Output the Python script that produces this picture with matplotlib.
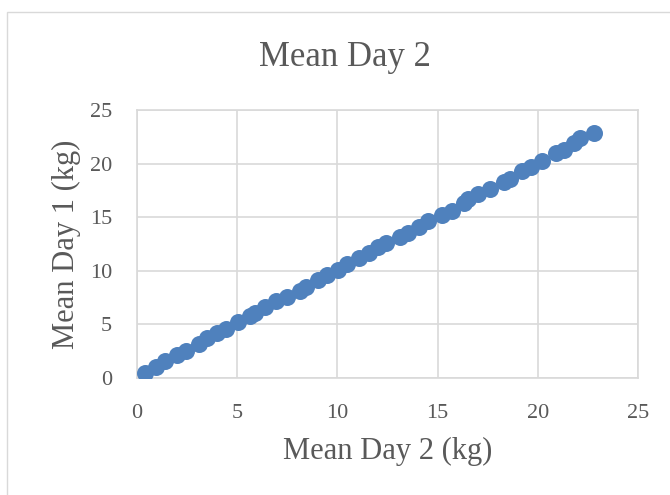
import matplotlib
matplotlib.use("Agg")
import matplotlib.pyplot as plt
from matplotlib.patches import Rectangle

day2 = [0.4, 0.95, 1.4, 2.0, 2.45, 3.1, 3.5, 4.0, 4.45, 5.05, 5.65, 5.9, 6.4, 6.95, 7.5,
        8.15, 8.45, 9.05, 9.5, 10.05, 10.5, 11.1, 11.6, 12.05, 12.45, 13.1, 13.5, 14.05,
        14.5, 15.2, 15.7, 16.3, 16.5, 17.0, 17.6, 18.3, 18.6, 19.2, 19.65, 20.2, 20.9,
        21.3, 21.8, 22.1, 22.8]
day1 = [0.5, 1.05, 1.6, 2.1, 2.55, 3.2, 3.7, 4.2, 4.6, 5.2, 5.8, 6.05, 6.65, 7.2, 7.55,
        8.15, 8.5, 9.1, 9.6, 10.05, 10.65, 11.15, 11.7, 12.2, 12.55, 13.15, 13.55, 14.1,
        14.6, 15.25, 15.6, 16.3, 16.7, 17.2, 17.65, 18.3, 18.6, 19.35, 19.7, 20.25, 21.0,
        21.3, 21.9, 22.4, 22.85]
ticks = [0, 5, 10, 15, 20, 25]

plt.rcParams['font.family'] = ['Liberation Serif', 'DejaVu Serif']
txt = '#595959'
grid = '#d9d9d9'

fig = plt.figure(figsize=(6.7, 4.95), dpi=100)
fig.patches.append(Rectangle((7/670, -0.1), 1.2, 1 - 12/495 + 0.1, transform=fig.transFigure,
                             fill=False, edgecolor=grid, linewidth=1.0))
ax = fig.add_axes([137/670, 117/495, 501/670, 268/495])
ax.scatter(day2, day1, s=150, color='#4F81BD', zorder=3, linewidths=0)
ax.set_xlim(0, 25)
ax.set_ylim(0, 25)
ax.set_xticks(ticks)
ax.set_yticks(ticks)
ax.grid(True, color=grid, linewidth=1.2, zorder=0)
for s in ax.spines.values():
    s.set_color(grid)
    s.set_linewidth(1.2)
ax.tick_params(length=0, labelsize=16, colors=txt)
ax.tick_params(axis='x', pad=19)
ax.tick_params(axis='y', pad=18)
ax.set_xlabel('Mean Day 2 (kg)', fontsize=22, color=txt, labelpad=10)
ax.set_ylabel('Mean Day 1 (kg)', fontsize=22, color=txt, labelpad=6)
fig.text(345/670, 1 - 57/495, 'Mean Day 2', ha='center', va='center', fontsize=25, color=txt)
fig.savefig('out.png', dpi=100)
